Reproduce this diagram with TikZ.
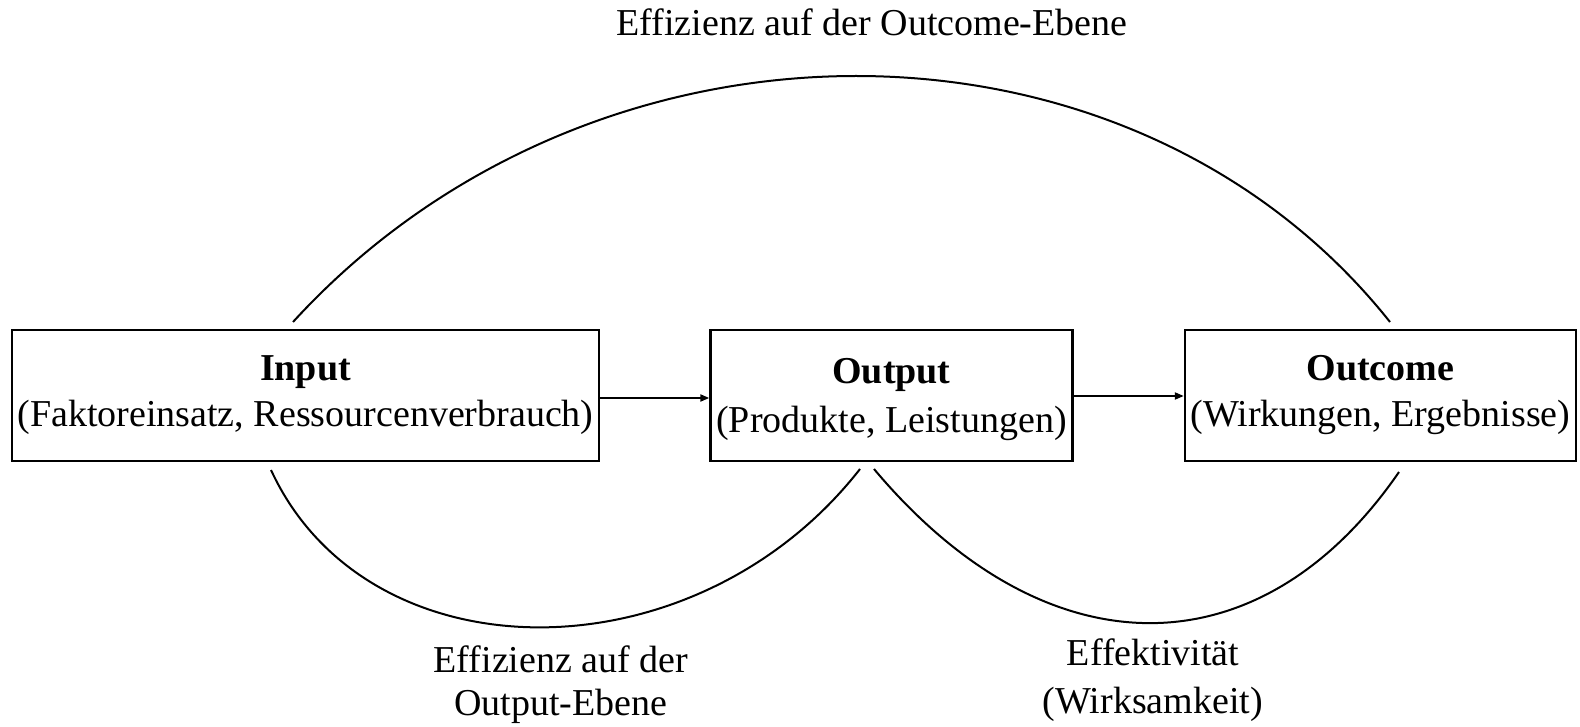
\documentclass[tikz,border=0pt]{standalone}
\usepackage{fontspec}
\setmainfont{Liberation Serif}
\usetikzlibrary{arrows.meta}
\begin{document}
\begin{tikzpicture}[x=1pt,y=1pt,
  box/.style={draw,line width=2.4pt,inner sep=0pt,align=center,font=\fontsize{38}{46}\selectfont},
  lbl/.style={inner sep=0pt,align=center,font=\fontsize{38}{45}\selectfont},
  arr/.style={line width=2pt,-{Triangle[length=9pt,width=7pt]}},
  arc/.style={line width=2pt}]
\useasboundingbox (0,0) rectangle (1580,-727);
\node[box,minimum width=587pt,minimum height=131pt] (in) at (305.5,-395.5) {\textbf{Input}\\(Faktoreinsatz, Ressourcenverbrauch)};
\node[box,minimum width=362pt,minimum height=131pt] (out) at (891.5,-395.5) {};
\node[box,draw=none,anchor=center] (outt) at (891.5,-399.5) {\textbf{Output}\\[3pt](Produkte, Leistungen)};
\node[box,minimum width=391pt,minimum height=131pt] (oc) at (1380.5,-395.5) {\textbf{Outcome}\\(Wirkungen, Ergebnisse)};
\draw[arr] (in.east |- 0,-398) -- (out.west |- 0,-398);
\draw[arr] (out.east |- 0,-396) -- (oc.west |- 0,-396);
\coordinate (t0) at (293,-322);
\coordinate (t1) at (1390,-322);
\coordinate (l0) at (271,-470);
\coordinate (l1) at (860,-469);
\coordinate (r0) at (874,-469);
\coordinate (r1) at (1399,-472);
\draw[arc] (t0) .. controls (593,6) and (1129,6) .. (t1);
\draw[arc] (l0) .. controls (368,-680) and (695,-680) .. (l1);
\draw[arc] (r0) .. controls (1046,-674) and (1260,-674) .. (r1);
\node[lbl] (top) at (872,-22) {Effizienz auf der Outcome-Ebene};
\node[lbl] (bl) at (561,-685) {Effizienz auf der\\[-2pt]Output-Ebene};
\node[lbl] (br) at (1153,-680) {Effektivität\\[3pt](Wirksamkeit)};
\end{tikzpicture}
\end{document}
